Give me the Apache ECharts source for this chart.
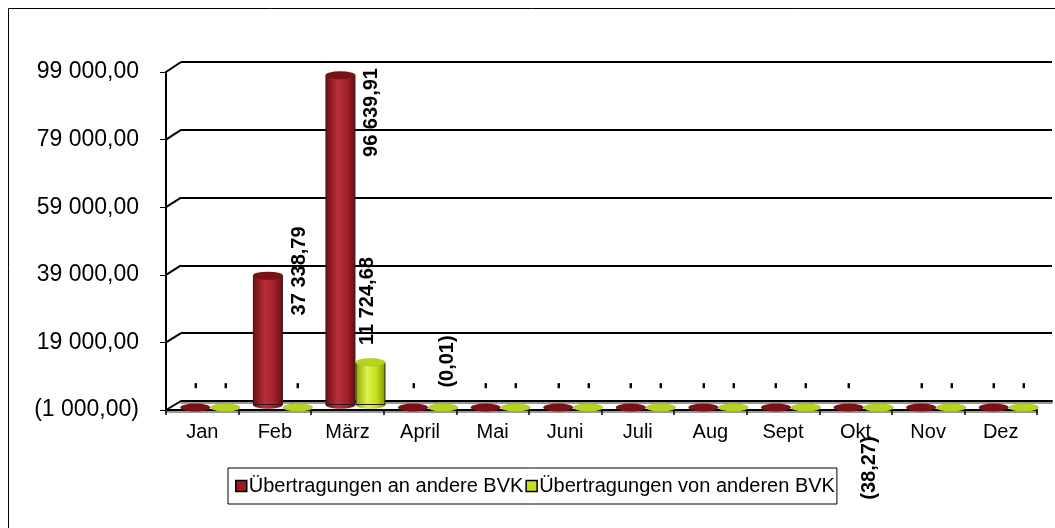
<!DOCTYPE html>
<html>
<head>
<meta charset="utf-8">
<script src="https://cdn.jsdelivr.net/npm/echarts@6/dist/echarts.min.js"></script>
<style>
html, body { margin: 0; background: #fff; }
#chart { width: 1055px; height: 528px; }
</style>
</head>
<body>
<div id="chart"></div>
<script>
var months = ['Jan', 'Feb', 'März', 'April', 'Mai', 'Juni', 'Juli', 'Aug', 'Sept', 'Okt', 'Nov', 'Dez'];
var anAndere = [0, 37338.79, 96639.91, 0, 0, 0, 0, 0, 0, 0, 0, 0];
var vonAnderen = [0, 0, 11724.68, -0.01, 0, 0, 0, 0, 0, -38.27, 0, 0];
var yTicks = [-1000, 19000, 39000, 59000, 79000, 99000];
var names = ['Übertragungen an andere BVK', 'Übertragungen von anderen BVK'];

// the floor of the chart sits at -1000, bars grow up from there
var BASE = -yTicks[0];
var FONT = 'Liberation Sans, Arial, sans-serif';

// where Excel put the value labels (relative to the bar's top-left)
var labelAt = {
  '0-1': [47, 40],
  '0-2': [46, 82],
  '1-2': [12, -17],
  '1-3': [19, -14],
  '1-9': [6, 98]
};

function fmt(v) {
  var s = Math.abs(v).toFixed(2).split('.');
  var r = s[0].replace(/\B(?=(\d{3})+(?!\d))/g, ' ') + ',' + s[1];
  return v < 0 ? '(' + r + ')' : r;
}

var G = echarts.graphic.LinearGradient;
var colors = [
  {
    body: new G(0, 0, 1, 0, [{offset: 0, color: '#6e0c12'}, {offset: 0.4, color: '#b8303a'}, {offset: 0.7, color: '#a5222b'}, {offset: 1, color: '#6a0a10'}]),
    cap: '#7a1117', legend: '#9c1a22'
  },
  {
    body: new G(0, 0, 1, 0, [{offset: 0, color: '#8aa600'}, {offset: 0.4, color: '#def250'}, {offset: 0.7, color: '#c4de1c'}, {offset: 1, color: '#7f9900'}]),
    cap: '#b8d21e', legend: '#c8e020'
  }
];

// front grid (axes), back grid (wall lines), middle grid (bars)
var FRONT = {left: 166, right: 18, top: 72, bottom: 118};
var BACK = {left: 181, right: 3, top: 62, bottom: 127};
var MID = {left: 174, right: 10, top: 67, bottom: 123};

var yMin = yTicks[0] + BASE, yMax = yTicks[yTicks.length - 1] + BASE, yStep = yTicks[1] - yTicks[0];

function valueAxis(gi, extra) {
  var a = {type: 'value', gridIndex: gi, min: yMin, max: yMax, interval: yStep,
    axisLine: {show: false}, axisTick: {show: false}, axisLabel: {show: false}, splitLine: {show: false}};
  for (var k in extra) a[k] = extra[k];
  return a;
}
function catAxis(gi, extra) {
  var a = {type: 'category', gridIndex: gi, data: months,
    axisLine: {show: false}, axisTick: {show: false}, axisLabel: {show: false}, splitLine: {show: false}};
  for (var k in extra) a[k] = extra[k];
  return a;
}

function makeSeries(idx, data) {
  var c = colors[idx];
  var bar = {
    type: 'bar', name: names[idx], xAxisIndex: 2, yAxisIndex: 2,
    barWidth: 30, barGap: '0%', z: 3,
    itemStyle: {color: c.body, borderColor: '#2a1a1a', borderWidth: 1},
    label: {
      show: true, rotate: 90, position: [15, -16], align: 'center', verticalAlign: 'middle',
      fontFamily: FONT, fontWeight: 'bold', fontSize: 20, color: '#000',
      formatter: function (p) { var v = data[p.dataIndex]; return v === 0 ? '-' : fmt(v); }
    },
    data: data.map(function (v, i) {
      var item = {value: v + BASE};
      var key = idx + '-' + i;
      if (labelAt[key]) item.label = {position: labelAt[key], align: 'left', verticalAlign: 'middle'};
      if (v <= 0) item.itemStyle = {color: 'transparent', borderWidth: 0};
      return item;
    })
  };
  var top = {
    type: 'pictorialBar', name: names[idx], xAxisIndex: 2, yAxisIndex: 2,
    barWidth: 30, barGap: '0%', z: 4, silent: true,
    symbol: 'circle', symbolSize: [30, 8], symbolPosition: 'end',
    itemStyle: {color: c.cap, borderColor: '#2a1a1a', borderWidth: 1},
    data: data.map(function (v) {
      return {value: v + BASE, symbolOffset: v > 0 ? [0, '-50%'] : [0, '20%']};
    })
  };
  var bottom = {
    type: 'pictorialBar', name: names[idx], xAxisIndex: 3, yAxisIndex: 3,
    barWidth: 30, barGap: '0%', z: 2, silent: true,
    symbol: 'circle', symbolSize: [30, 8], symbolPosition: 'start', symbolOffset: [0, '50%'],
    itemStyle: {color: c.body, borderColor: '#2a1a1a', borderWidth: 1},
    data: data.map(function (v) { return v > 0 ? v + BASE : '-'; })
  };
  return [bar, top, bottom];
}

var chart = echarts.init(document.getElementById('chart'));

var option = {
  animation: false,
  backgroundColor: '#fff',
  textStyle: {fontFamily: FONT},
  grid: [FRONT, BACK, MID, MID],
  xAxis: [
    catAxis(0, {
      axisLine: {show: true, lineStyle: {color: '#000', width: 2, shadowColor: '#999', shadowOffsetY: 2}},
      axisTick: {show: true, length: 5, lineStyle: {color: '#000', width: 1.5}},
      axisLabel: {show: true, fontSize: 20, color: '#000', margin: 12, fontFamily: FONT}
    }),
    catAxis(1, {axisLine: {show: true, onZero: false, lineStyle: {color: '#000', width: 2, shadowColor: '#999', shadowOffsetY: 2}}}),
    catAxis(2),
    catAxis(3)
  ],
  yAxis: [
    valueAxis(0, {
      axisLine: {show: true, lineStyle: {color: '#000', width: 2}},
      axisTick: {show: true, length: 6, lineStyle: {color: '#000', width: 1}},
      axisLabel: {show: true, fontSize: 23, color: '#000', margin: 27, fontFamily: FONT,
        formatter: function (v) { return fmt(v - BASE); }}
    }),
    valueAxis(1, {splitLine: {show: true, lineStyle: {color: '#000', width: 2}}}),
    valueAxis(2),
    valueAxis(3)
  ],
  legend: {
    left: 228, top: 468,
    orient: 'horizontal',
    padding: [8, 2, 8, 7],
    itemGap: 2, itemWidth: 11, itemHeight: 11,
    borderColor: '#000', borderWidth: 1,
    icon: 'rect',
    textStyle: {fontSize: 20, color: '#000', fontFamily: FONT, padding: [0, 0, 0, -3]},
    data: names.map(function (n, i) {
      return {name: n, itemStyle: {color: colors[i].legend, borderColor: '#000', borderWidth: 1.5}};
    })
  },
  series: makeSeries(0, anAndere).concat(makeSeries(1, vonAnderen))
};
chart.setOption(option);

// diagonal connectors from the front axis to the back wall lines, plus the outer frame
var lines = yTicks.map(function (t) {
  var yf = chart.convertToPixel({yAxisIndex: 0}, t + BASE);
  var yb = chart.convertToPixel({yAxisIndex: 1}, t + BASE);
  return {
    type: 'line', silent: true, z: 10,
    shape: {x1: FRONT.left, y1: yf, x2: BACK.left, y2: yb},
    style: {stroke: '#000', lineWidth: 2}
  };
});
lines.push({
  type: 'rect', silent: true, z: 0,
  shape: {x: 8.5, y: 8.5, width: 1100, height: 600},
  style: {fill: 'none', stroke: '#000', lineWidth: 1}
});
chart.setOption({graphic: lines});
</script>
</body>
</html>
